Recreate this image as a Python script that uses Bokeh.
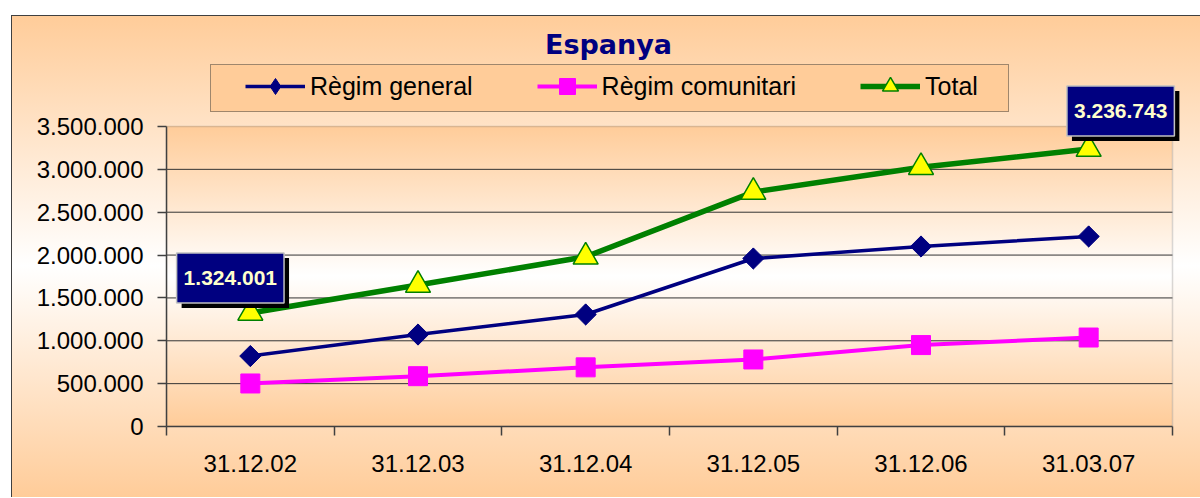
import numpy as np
from bokeh.plotting import figure
from bokeh.models import (Range1d, FixedTicker, CustomJSTickFormatter, Legend,
                          LegendItem, Label, BoxAnnotation)
from bokeh.embed import file_html
from bokeh.resources import INLINE

# ---------------- data ----------------
TITLE = "Espanya"
DATES = ["31.12.02", "31.12.03", "31.12.04", "31.12.05", "31.12.06", "31.03.07"]
SERIES_NAMES = ["Règim general", "Règim comunitari", "Total"]
GENERAL = [822000, 1073000, 1307000, 1960000, 2100000, 2217000]
COMUNITARI = [502000, 587000, 690000, 782000, 950000, 1038000]
TOTAL = [1324001, 1650000, 1980000, 2735000, 3025000, 3236743]
Y_TICKS = [0, 500000, 1000000, 1500000, 2000000, 2500000, 3000000, 3500000]

# ---------------- layout / style ----------------
ORANGE = "#FFCC99"
W, H = 1189, 482
ML, MB = 155, 71                 # left / bottom borders of the figure
PA_W, PA_H = 1006, 300           # plot-area size in px (the 0..6 x 0..3.5M box)
FW, FH = W - ML, H - MB          # frame size (frame runs to top/right edge)
PA_TOP = FH - PA_H
FONT = "Liberation Sans"

NX = len(DATES)
YMAX = Y_TICKS[-1]


def fmt(v):
    return f"{int(v):,}".replace(",", ".")


bg = ", ".join([
    "linear-gradient(#404040,#404040) 0 0 / 1px 100% no-repeat",
    "linear-gradient(#404040,#404040) 0 0 / 100% 1px no-repeat",
    f"linear-gradient(to bottom, {ORANGE} 0%, #FFFFFF 50%, {ORANGE} 100%) {ML}px {PA_TOP}px / {PA_W}px {PA_H}px no-repeat",
    f"linear-gradient(to bottom, {ORANGE} 0%, #FFFFFF 52%, {ORANGE} 100%) 0 0 / 100% 100% no-repeat",
])

p = figure(width=W, height=H,
           x_range=Range1d(0, NX * FW / PA_W), y_range=Range1d(0, YMAX * FH / PA_H),
           output_backend="svg", toolbar_location=None,
           min_border_left=ML, min_border_right=0,
           min_border_top=0, min_border_bottom=MB)
p.styles = {"position": "absolute", "left": "11px", "top": "15px", "background": bg}
p.border_fill_color = None
p.background_fill_color = None
p.outline_line_color = None
p.xgrid.visible = False
p.ygrid.visible = False

# axes
xs = [i + 0.5 for i in range(NX)]
p.xaxis.ticker = FixedTicker(ticks=xs, minor_ticks=list(range(NX + 1)))
p.xaxis.major_label_overrides = {x: d for x, d in zip(xs, DATES)}
p.xaxis.bounds = (0, NX)
p.xaxis.major_tick_line_color = None
p.xaxis.major_tick_out = 0
p.xaxis.major_tick_in = 0
p.xaxis.minor_tick_line_color = "#404040"
p.xaxis.minor_tick_line_width = 1.5
p.xaxis.minor_tick_out = 9
p.xaxis.minor_tick_in = 0
p.xaxis.major_label_standoff = 19

p.yaxis.ticker = FixedTicker(ticks=Y_TICKS)
p.yaxis.bounds = (0, YMAX)
p.yaxis.formatter = CustomJSTickFormatter(
    code="return Math.round(tick).toString().replace(/\\B(?=(\\d{3})+(?!\\d))/g, '.');")
p.yaxis.major_tick_out = 9
p.yaxis.major_tick_in = 0
p.yaxis.minor_tick_line_color = None
p.yaxis.major_tick_line_color = "#404040"
p.yaxis.major_tick_line_width = 1.5
p.yaxis.major_label_standoff = 14

for ax in (p.xaxis, p.yaxis):
    ax.axis_line_color = "#404040"
    ax.axis_line_width = 1.5
    ax.major_label_text_font = FONT
    ax.major_label_text_font_size = "24px"
    ax.major_label_text_color = "#000000"

# gridlines limited to the plot area, and plot-area border
gy = Y_TICKS[1:-1]
p.segment(x0=[0] * len(gy), x1=[NX] * len(gy), y0=gy, y1=gy,
          line_color="#333333", line_width=1, level="underlay")
p.add_layout(BoxAnnotation(left=0, right=NX, bottom=0, top=YMAX,
                           fill_alpha=0, line_color="#808080", line_width=1.5,
                           level="underlay"))

# series
g_line = p.line(xs, GENERAL, line_color="#000080", line_width=3.5)
# diamond marker used as legend key (legend glyphs are drawn unrotated);
# it sits beneath the rotated-square markers
g_key = p.scatter(xs, GENERAL, marker="diamond", size=20,
                  fill_color="#000080", line_color="#000080")
g_pts = p.scatter(xs, GENERAL, marker="square", angle=np.pi / 4, size=15,
                  fill_color="#000080", line_color="#000080")
c_line = p.line(xs, COMUNITARI, line_color="#FF00FF", line_width=4)
c_pts = p.scatter(xs, COMUNITARI, marker="square", size=19,
                  fill_color="#FF00FF", line_color="#FF00FF")
t_line = p.line(xs, TOTAL, line_color="#008000", line_width=5.5)
t_pts = p.scatter(xs, TOTAL, marker="triangle", size=25,
                  fill_color="#FFFF00", line_color="#008000", line_width=1.5)

# legend box (background)
dummy = p.line(x=[], y=[], line_alpha=0)
legend_box = Legend(items=[LegendItem(label=" ", renderers=[dummy])],
                    location=(44, 314), padding=0, margin=0,
                    glyph_width=1, glyph_height=46, label_width=796, label_height=46,
                    label_standoff=0, label_text_font_size="8px",
                    background_fill_color=ORANGE, background_fill_alpha=1,
                    border_line_color="#404040", border_line_width=1)
p.add_layout(legend_box, "center")

legend = Legend(items=[LegendItem(label=SERIES_NAMES[0], renderers=[g_line, g_key]),
                       LegendItem(label=SERIES_NAMES[1], renderers=[c_line, c_pts]),
                       LegendItem(label=SERIES_NAMES[2], renderers=[t_line, t_pts])],
                orientation="horizontal", location=(79, 320), padding=0, margin=0,
                glyph_width=60, glyph_height=40, label_height=40,
                label_standoff=5, spacing=64,
                label_text_font=FONT, label_text_font_size="25px",
                label_text_color="#000000",
                background_fill_alpha=0, border_line_color=None)
p.add_layout(legend, "center")

# title
p.add_layout(Label(x=442, y=382, x_units="screen", y_units="screen", text=TITLE,
                   text_align="center", text_baseline="middle",
                   text_font="DejaVu Sans", text_font_style="bold",
                   text_font_size="27px", text_color="#000080"))

# data labels (first and last totals)
for idx, dx, dy in ((0, -20, 35), (NX - 1, 32, 38)):
    txt = fmt(TOTAL[idx])
    common = dict(x=xs[idx], y=TOTAL[idx], text=txt, text_align="center",
                  text_baseline="middle", text_font=FONT, text_font_style="bold",
                  text_font_size="21px", padding=(7, 18))
    p.add_layout(Label(x_offset=dx + 5, y_offset=dy - 5, text_color="#000000",
                       background_fill_color="#000000", **common))
    p.add_layout(Label(x_offset=dx, y_offset=dy, text_color="#FFFFCC",
                       background_fill_color="#000080",
                       border_line_color="#C0C0C0", border_line_width=1.5, **common))

open("out.html", "w").write(file_html(p, INLINE))
